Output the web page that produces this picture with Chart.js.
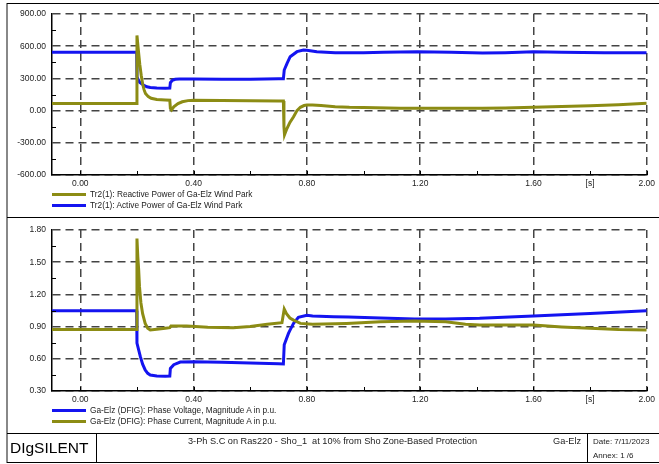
<!DOCTYPE html>
<html>
<head>
<meta charset="utf-8">
<script src="https://cdn.jsdelivr.net/npm/chart.js@4/dist/chart.umd.min.js"></script>
<style>
  body { margin: 0; background: #fff; font-family: Arial, "Liberation Sans", sans-serif; color: #222; }
  #page { position: relative; width: 659px; height: 464px; overflow: hidden; }
  canvas { position: absolute; left: 0; }
  .ln { position: absolute; background: #000; }
  .txt { position: absolute; white-space: nowrap; line-height: 1; }
  .lg { font-size: 8.3px; }
  .leg { position: absolute; height: 3px; width: 34px; left: 52px; }
</style>
</head>
<body>
<div id="page">
  <canvas id="topChart" width="659" height="200" style="top:0"></canvas>
  <canvas id="botChart" width="659" height="200" style="top:217px"></canvas>

  <!-- frame -->
  <div class="ln" style="left:6px;top:3px;width:2px;height:460px;background:#888"></div>
  <div class="ln" style="left:7px;top:3px;width:652px;height:1px"></div>
  <div class="ln" style="left:7px;top:217px;width:652px;height:1px"></div>
  <div class="ln" style="left:7px;top:433px;width:652px;height:1px"></div>
  <div class="ln" style="left:7px;top:462px;width:652px;height:1px"></div>
  <div class="ln" style="left:96px;top:433px;width:1px;height:29px"></div>
  <div class="ln" style="left:587px;top:433px;width:1px;height:29px"></div>

  <!-- legends -->
  <div class="leg" style="top:193px;background:#8c8c14"></div>
  <div class="txt lg" style="left:90px;top:190px">Tr2(1): Reactive Power of Ga-Elz Wind Park</div>
  <div class="leg" style="top:204px;background:#1414f0"></div>
  <div class="txt lg" style="left:90px;top:201px">Tr2(1): Active Power of Ga-Elz Wind Park</div>
  <div class="leg" style="top:409px;background:#1414f0"></div>
  <div class="txt lg" style="left:90px;top:406px">Ga-Elz (DFIG): Phase Voltage, Magnitude A in p.u.</div>
  <div class="leg" style="top:420px;background:#8c8c14"></div>
  <div class="txt lg" style="left:90px;top:417px">Ga-Elz (DFIG): Phase Current, Magnitude A in p.u.</div>

  <!-- title block -->
  <div class="txt" style="left:10px;top:440px;font-size:15.5px;color:#000">DIgSILENT</div>
  <div class="txt" style="left:188px;top:437px;font-size:9.2px">3-Ph S.C on Ras220 - Sho_1&nbsp; at 10% from Sho Zone-Based Protection</div>
  <div class="txt" style="left:553px;top:437px;font-size:9.2px">Ga-Elz</div>
  <div class="txt" style="left:593px;top:438px;font-size:8px">Date: 7/11/2023</div>
  <div class="txt" style="left:593px;top:452px;font-size:8px">Annex: 1 /6</div>
</div>

<script>
// time axis
const xTickValues = [0, 0.4, 0.8, 1.2, 1.6, 1.8, 2.0];
const xTickLabels = ["0.00", "0.40", "0.80", "1.20", "1.60", "[s]", "2.00"];
const xMinorTicks = [0, 0.2, 0.4, 0.6, 0.8, 1.0, 1.2, 1.4, 1.6, 1.8, 2.0];

// top plot: power
const pTicks = [-600, -300, 0, 300, 600, 900];
const pMinor = [-450, -150, 150, 450, 750];
const reactivePower = [
  [-0.1, 65], [0.199, 65], [0.2, 700], [0.205, 560], [0.21, 430], [0.215, 330],
  [0.22, 250], [0.225, 195], [0.23, 160], [0.24, 130], [0.25, 115], [0.27, 103],
  [0.3, 98], [0.316, 96], [0.318, 20], [0.322, 6], [0.33, 35], [0.345, 65],
  [0.36, 82], [0.38, 93], [0.4, 96], [0.5, 94], [0.6, 92], [0.7, 90], [0.717, 89],
  [0.719, -150], [0.721, -225], [0.73, -165], [0.74, -110], [0.753, -57],
  [0.765, 0], [0.777, 31], [0.79, 47], [0.8, 52], [0.82, 52], [0.85, 47],
  [0.9, 37], [0.95, 31], [1.0, 28], [1.13, 21], [1.3, 21], [1.42, 21],
  [1.5, 25], [1.6, 31], [1.7, 38], [1.8, 45], [1.9, 55], [2.0, 68]
];
const activePower = [
  [-0.1, 543], [0.199, 543], [0.2, 315], [0.205, 285], [0.21, 262], [0.223, 238],
  [0.235, 222], [0.247, 215], [0.27, 210], [0.3, 208], [0.316, 210], [0.318, 260],
  [0.325, 282], [0.335, 292], [0.35, 295], [0.4, 294], [0.5, 291], [0.6, 293],
  [0.7, 296], [0.717, 296], [0.72, 378], [0.73, 440], [0.741, 502], [0.765, 549],
  [0.788, 565], [0.8, 563], [0.835, 548], [0.9, 538], [1.0, 540], [1.07, 543],
  [1.19, 549], [1.31, 543], [1.42, 536], [1.5, 540], [1.6, 549], [1.7, 543],
  [1.85, 540], [2.0, 540]
];

// bottom plot: voltage / current
const vTicks = [0.3, 0.6, 0.9, 1.2, 1.5, 1.8];
const vMinor = [0.45, 0.75, 1.05, 1.35, 1.65];
const phaseVoltage = [
  [-0.1, 1.048], [0.199, 1.048], [0.2, 0.747], [0.212, 0.62], [0.22, 0.55],
  [0.229, 0.496], [0.238, 0.465], [0.247, 0.449], [0.27, 0.44], [0.3, 0.438],
  [0.316, 0.44], [0.318, 0.51], [0.33, 0.545], [0.353, 0.57], [0.4, 0.573],
  [0.5, 0.567], [0.6, 0.561], [0.7, 0.555], [0.717, 0.552], [0.72, 0.73],
  [0.735, 0.837], [0.741, 0.87], [0.753, 0.93], [0.77, 0.986], [0.8, 1.006],
  [0.82, 0.998], [0.894, 0.992], [0.947, 0.99], [1.06, 0.98], [1.18, 0.971],
  [1.29, 0.971], [1.41, 0.977], [1.6, 0.999], [1.8, 1.022], [2.0, 1.047]
];
const phaseCurrent = [
  [-0.1, 0.873], [0.199, 0.873], [0.2, 1.72], [0.203, 1.55], [0.206, 1.43],
  [0.209, 1.27], [0.214, 1.12], [0.22, 1.02], [0.229, 0.93], [0.238, 0.885],
  [0.247, 0.868], [0.27, 0.875], [0.3, 0.885], [0.316, 0.89], [0.32, 0.905],
  [0.376, 0.905], [0.45, 0.895], [0.54, 0.89], [0.6, 0.9], [0.66, 0.921],
  [0.712, 0.936], [0.72, 1.063], [0.728, 1.02], [0.74, 0.98], [0.753, 0.96],
  [0.777, 0.93], [0.82, 0.921], [0.94, 0.93], [1.06, 0.946], [1.18, 0.952],
  [1.29, 0.946], [1.36, 0.921], [1.41, 0.915], [1.6, 0.915], [1.7, 0.897],
  [1.8, 0.884], [1.9, 0.873], [2.0, 0.868]
];

const OLIVE = "#8c8c14";
const BLUE = "#1414f0";
const GRID = "#444";
const FONT = { family: "Arial, 'Liberation Sans', sans-serif", size: 8.5 };

function toXY(arr) {
  return arr.map(p => ({ x: p[0], y: p[1] }));
}

// small inward ticks along the two solid axes
const minorTicks = {
  id: "minorTicks",
  afterDraw(chart, args, opts) {
    const { ctx, chartArea, scales } = chart;
    ctx.save();
    ctx.strokeStyle = "#000";
    ctx.lineWidth = 1;
    ctx.beginPath();
    xMinorTicks.forEach(v => {
      const px = Math.round(scales.x.getPixelForValue(v)) + 0.5;
      ctx.moveTo(px, chartArea.bottom);
      ctx.lineTo(px, chartArea.bottom - 4);
    });
    opts.yMinor.forEach(v => {
      const py = Math.round(scales.y.getPixelForValue(v)) + 0.5;
      ctx.moveTo(chartArea.left, py);
      ctx.lineTo(chartArea.left + 4, py);
    });
    ctx.stroke();
    ctx.restore();
  }
};

function makeChart(id, datasets, yMin, yMax, yTicks, yMinor, padTop, xHeight) {
  return new Chart(document.getElementById(id).getContext("2d"), {
    type: "line",
    data: { datasets: datasets },
    options: {
      responsive: false,
      animation: false,
      events: [],
      layout: { padding: { left: 0, right: 12, top: padTop, bottom: 0 } },
      elements: { point: { radius: 0 }, line: { tension: 0, borderWidth: 3 } },
      plugins: { legend: { display: false }, tooltip: { enabled: false }, minorTicks: { yMinor: yMinor } },
      scales: {
        x: {
          type: "linear",
          min: -0.1,
          max: 2.0,
          afterBuildTicks: s => { s.ticks = xTickValues.map(v => ({ value: v })); },
          afterFit: s => { s.height = xHeight; },
          ticks: {
            autoSkip: false,
            maxRotation: 0,
            padding: 4,
            color: "#222",
            font: FONT,
            callback: (v, i) => xTickLabels[i]
          },
          grid: {
            drawTicks: false,
            lineWidth: 1.5,
            color: c => (c.tick && c.tick.value === 1.8 ? "rgba(0,0,0,0)" : GRID)
          },
          border: { display: true, color: "#000", width: 1.5, dash: [8, 5] }
        },
        y: {
          min: yMin,
          max: yMax,
          afterBuildTicks: s => { s.ticks = yTicks.map(v => ({ value: v })); },
          afterFit: s => { s.width = 52; },
          ticks: {
            padding: 6,
            color: "#222",
            font: FONT,
            callback: v => v.toFixed(2)
          },
          grid: { drawTicks: false, lineWidth: 1.5, color: GRID },
          border: { display: true, color: "#000", width: 1.5, dash: [8, 5] }
        }
      }
    },
    plugins: [minorTicks]
  });
}

makeChart("topChart", [
  { label: "Tr2(1): Reactive Power of Ga-Elz Wind Park", data: toXY(reactivePower), borderColor: OLIVE },
  { label: "Tr2(1): Active Power of Ga-Elz Wind Park", data: toXY(activePower), borderColor: BLUE }
], -600, 900, pTicks, pMinor, 14, 25);

makeChart("botChart", [
  { label: "Ga-Elz (DFIG): Phase Current, Magnitude A in p.u.", data: toXY(phaseCurrent), borderColor: OLIVE },
  { label: "Ga-Elz (DFIG): Phase Voltage, Magnitude A in p.u.", data: toXY(phaseVoltage), borderColor: BLUE }
], 0.3, 1.8, vTicks, vMinor, 13, 26);
</script>
</body>
</html>
